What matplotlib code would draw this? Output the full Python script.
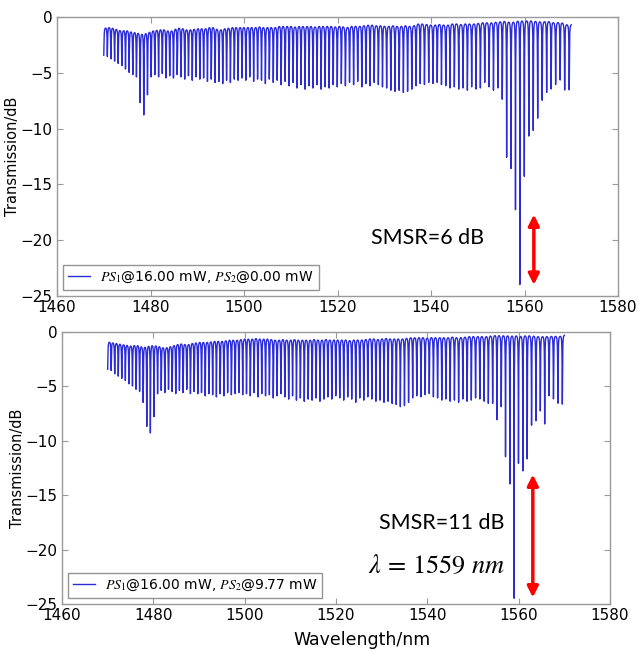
import numpy as np
import matplotlib
matplotlib.use("Agg")
import matplotlib.pyplot as plt

plt.rcParams['mathtext.fontset'] = 'stix'
plt.rcParams['font.family'] = ['DejaVu Sans']

# ---------------- data ----------------
dip_wavelength = [
    1470.00, 1470.77, 1471.54, 1472.32, 1473.09, 1473.87, 1474.65, 1475.43, 1476.21, 1476.99,
    1477.78, 1478.56, 1479.35, 1480.14, 1480.93, 1481.73, 1482.52, 1483.32, 1484.11, 1484.91,
    1485.71, 1486.51, 1487.32, 1488.12, 1488.93, 1489.74, 1490.55, 1491.36, 1492.18, 1492.99,
    1493.81, 1494.63, 1495.45, 1496.27, 1497.09, 1497.92, 1498.74, 1499.57, 1500.40, 1501.23,
    1502.06, 1502.90, 1503.74, 1504.57, 1505.41, 1506.26, 1507.10, 1507.94, 1508.79, 1509.64,
    1510.49, 1511.34, 1512.19, 1513.05, 1513.91, 1514.76, 1515.62, 1516.49, 1517.35, 1518.22,
    1519.08, 1519.95, 1520.82, 1521.69, 1522.57, 1523.44, 1524.32, 1525.20, 1526.08, 1526.96,
    1527.85, 1528.74, 1529.62, 1530.51, 1531.40, 1532.30, 1533.19, 1534.09, 1534.99, 1535.89,
    1536.79, 1537.69, 1538.60, 1539.51, 1540.42, 1541.33, 1542.24, 1543.16, 1544.07, 1544.99,
    1545.93, 1546.85, 1547.78, 1548.70, 1549.63, 1550.56, 1551.49, 1552.43, 1553.36, 1554.30,
    1555.24, 1556.18, 1557.12, 1558.07, 1559.00, 1559.96, 1560.92, 1561.87, 1562.82, 1563.78,
    1564.74, 1565.70, 1566.66, 1567.62, 1568.59, 1569.56,
]

# dip depth (dB) for PS1 = 16.00 mW, PS2 = 0.00 mW
depth_top = [
    -3.4, -3.5, -3.7, -3.9, -4.1, -4.3, -4.6, -4.9, -5.1, -5.3, -7.6, -8.7, -6.9,
    -5.3, -5.1, -5.3, -5.0, -5.4, -5.2, -5.4, -5.1, -5.3, -5.5, -5.2, -5.6,
    -5.3, -5.5, -5.4, -5.7, -5.5, -5.8, -5.7, -5.9, -5.6, -5.8, -5.5,
    -5.6, -5.4, -5.6, -5.3, -5.7, -5.5, -5.6, -5.9, -5.5, -5.8, -5.6, -6.0,
    -5.7, -6.1, -5.8, -6.3, -6.0, -6.4, -6.1, -6.3, -6.0, -6.4, -6.2, -6.3,
    -6.0, -6.2, -5.9, -6.1, -5.8, -6.0, -5.7, -6.2, -5.9, -6.1, -5.8, -6.0,
    -6.2, -6.3, -6.5, -6.6, -6.5, -6.7, -6.6, -6.4, -6.1, -5.9, -6.0, -5.8,
    -5.9, -5.8, -6.0, -6.1, -6.3, -6.2, -6.4, -6.3, -6.5, -6.2, -6.4, -6.3,
    -5.8, -6.2, -6.5, -6.3, -7.3, -12.5, -13.5, -17.2, -23.9, -14.2,
    -10.6, -10.1, -9.0, -7.4, -6.7, -6.4, -6.0, -5.6, -6.5, -6.5,
]
# level between dips (dB), PS2 = 0.00 mW
level_top = [
    -0.9, -0.8, -0.8, -0.9, -1.0, -1.1, -1.0, -1.1, -1.2, -1.2, -1.3, -1.3, -1.2,
    -1.1, -1.0, -1.0, -0.9, -1.0, -1.1, -1.0, -0.8, -0.8, -0.9, -1.0, -0.9,
    -0.9, -0.8, -0.9, -0.8, -0.7, -0.8, -1.0, -0.9, -0.8, -0.8, -0.7,
    -0.8, -0.7, -0.8, -0.7, -0.8, -0.7, -0.7, -0.8, -0.7, -0.8, -0.7, -0.6,
    -0.7, -0.6, -0.7, -0.7, -0.6, -0.7, -0.6, -0.7, -0.7, -0.6, -0.7, -0.6,
    -0.7, -0.7, -0.6, -0.8, -0.7, -0.6, -0.7, -0.6, -0.6, -0.5, -0.6, -0.6,
    -0.6, -0.7, -0.6, -0.6, -0.7, -0.6, -0.6, -0.7, -0.5, -0.4, -0.5, -0.5,
    -0.6, -0.5, -0.5, -0.6, -0.5, -0.4, -0.5, -0.5, -0.4, -0.5, -0.4, -0.4,
    -0.3, -0.4, -0.3, -0.3, -0.2, -0.2, -0.3, -0.2, -0.1, -0.2,
    -0.1, -0.2, -0.2, -0.3, -0.2, -0.3, -0.4, -0.3, -0.5, -0.6,
]

# dip depth (dB) for PS1 = 16.00 mW, PS2 = 9.77 mW
depth_bottom = [
    -3.4, -3.5, -3.8, -4.0, -4.2, -4.4, -4.7, -4.9, -5.2, -5.4, -6.4, -8.6, -9.2,
    -7.7, -5.6, -5.3, -5.5, -5.2, -5.4, -5.6, -5.3, -5.5, -5.2, -5.6, -5.4,
    -5.6, -5.5, -5.8, -5.6, -5.7, -5.9, -5.6, -5.8, -5.5, -5.7, -5.6,
    -5.5, -5.7, -5.6, -5.8, -5.5, -5.9, -5.6, -5.8, -5.7, -6.0, -5.8, -5.6,
    -5.9, -6.1, -5.8, -6.2, -6.0, -6.3, -6.1, -6.2, -6.0, -6.3, -6.1, -5.9,
    -6.1, -5.8, -6.0, -6.2, -5.9, -6.1, -6.4, -6.0, -6.2, -5.9, -6.1, -6.3,
    -6.2, -6.4, -6.3, -6.5, -6.6, -6.8, -6.7, -6.4, -6.0, -5.8, -5.9, -5.7,
    -5.6, -5.9, -6.0, -6.2, -6.1, -6.3, -6.2, -6.4, -6.1, -6.3, -6.2, -6.0,
    -6.1, -6.3, -6.5, -6.5, -8.0, -6.8, -11.4, -13.9, -24.4, -12.0,
    -12.7, -11.6, -8.5, -8.1, -7.2, -8.4, -5.8, -6.1, -6.5, -6.6,
]
level_bottom = [
    -0.8, -0.8, -0.9, -0.9, -1.0, -1.0, -1.1, -1.1, -1.0, -1.1, -1.2, -1.1, -1.0,
    -1.0, -1.1, -1.2, -1.3, -1.2, -1.1, -1.0, -0.9, -0.9, -1.0, -0.9, -0.8,
    -0.8, -0.7, -0.8, -0.7, -0.7, -0.6, -0.7, -0.6, -0.6, -0.5, -0.6,
    -0.5, -0.5, -0.4, -0.5, -0.4, -0.4, -0.5, -0.4, -0.5, -0.5, -0.6, -0.5,
    -0.5, -0.6, -0.5, -0.5, -0.6, -0.5, -0.6, -0.5, -0.5, -0.6, -0.5, -0.5,
    -0.6, -0.5, -0.6, -0.5, -0.6, -0.6, -0.5, -0.6, -0.5, -0.5, -0.4, -0.5,
    -0.5, -0.4, -0.4, -0.5, -0.4, -0.5, -0.4, -0.4, -0.3, -0.4, -0.3, -0.4,
    -0.4, -0.3, -0.4, -0.3, -0.4, -0.3, -0.3, -0.4, -0.3, -0.3, -0.2, -0.3,
    -0.2, -0.3, -0.2, -0.2, -0.1, -0.2, -0.1, -0.2, -0.1, -0.2,
    -0.2, -0.1, -0.2, -0.2, -0.3, -0.2, -0.3, -0.2, -0.3, -0.2,
]

labels = [r"$PS_1$@16.00 mW, $PS_2$@0.00 mW", r"$PS_1$@16.00 mW, $PS_2$@9.77 mW"]
x_ticks = [1460, 1480, 1500, 1520, 1540, 1560, 1580]
y_ticks = [0, -5, -10, -15, -20, -25]
smsr_top = "SMSR=6 dB"
smsr_bottom = "SMSR=11 dB"
lambda_text = r"$\lambda\, =\, 1559\ nm$"
x_end = 1570.0


def spectrum(centres, depths, levels, hwhm=0.07):
    c = np.asarray(centres, float)
    d = np.asarray(depths, float)
    lv = np.asarray(levels, float)
    wl = np.union1d(np.linspace(c[0], x_end, 40001), c)
    base = np.interp(wl, c, lv)
    a = 1.0 - 10.0 ** ((d - lv) / 10.0)
    lin = np.ones_like(wl)
    for ci, ai in zip(c, a):
        lin *= 1.0 - ai * hwhm ** 2 / ((wl - ci) ** 2 + hwhm ** 2)
    return wl, base + 10.0 * np.log10(lin)


W, H = 638, 653
fig = plt.figure(figsize=(W / 100, H / 100), dpi=100)
ax1 = fig.add_axes([57 / W, 1 - 296 / H, 561 / W, 279 / H])
ax2 = fig.add_axes([62 / W, 1 - 604 / H, 548 / W, 272 / H])

line_color = '#2b2bd8'
spine_color = '#9a9a9a'

for ax, dep, lev, lab in [(ax1, depth_top, level_top, labels[0]),
                          (ax2, depth_bottom, level_bottom, labels[1])]:
    wl, t = spectrum(dip_wavelength, dep, lev)
    ax.plot(wl, t, color=line_color, lw=1.0, label=lab)
    ax.set_xlim(1460, 1580)
    ax.set_ylim(-25, 0)
    ax.set_xticks(x_ticks)
    ax.set_yticks(y_ticks)
    ax.tick_params(direction='in', top=True, right=True, length=4,
                   color=spine_color, labelsize=11, pad=3)
    for s in ax.spines.values():
        s.set_color(spine_color)
        s.set_linewidth(1.0)
    ax.set_ylabel("Transmission/dB", fontsize=10.5)
    leg = ax.legend(loc='lower left', fontsize=10, frameon=True, fancybox=False,
                    handlelength=1.6, handletextpad=0.7, borderaxespad=0.45,
                    borderpad=0.35)
    leg.get_frame().set_edgecolor('#7a7a7a')
    leg.get_frame().set_linewidth(1.0)

ax1.yaxis.set_label_coords(-0.066, 0.5)
ax2.yaxis.set_label_coords(-0.068, 0.5)
ax2.set_xlabel("Wavelength/nm", fontsize=12.5)
ax2.xaxis.set_label_coords(0.548, -0.1)

ax1.text(1527.2, -19.8, smsr_top, fontsize=15.5, family='Lato',
         ha='left', va='center')
ax1.annotate("", xy=(1562.0, -24.0), xytext=(1562.0, -17.7),
             arrowprops=dict(arrowstyle='<|-|>', color='red', lw=2.5,
                             mutation_scale=16, shrinkA=0, shrinkB=0))

ax2.text(1557.0, -17.6, smsr_bottom, fontsize=15.5, family='Lato',
         ha='right', va='center')
ax2.text(1557.0, -21.5, lambda_text, fontsize=19, ha='right', va='center')
ax2.annotate("", xy=(1563.1, -24.4), xytext=(1563.1, -13.1),
             arrowprops=dict(arrowstyle='<|-|>', color='red', lw=2.5,
                             mutation_scale=16, shrinkA=0, shrinkB=0))

fig.savefig("out.png", dpi=100)
